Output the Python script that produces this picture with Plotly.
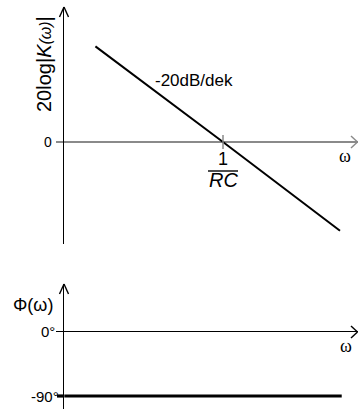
import plotly.graph_objects as go

# Bode diagram: asymptotic magnitude and phase of a first-order RC circuit
omega_gain = [0.09, 1.0, 9.1]        # ω·RC
gain_db = [20.8, 0.0, -19.3]         # 20log|K(ω)| asymptote, -20 dB/decade
omega_phase = [0.05, 9.4]
phase_deg = [-90, -90]               # Φ(ω)
corner_omega = [1.0]                 # 1/RC
corner_gain = [0.0]

W, H = 358, 409
SANS = "Liberation Sans, Arial, sans-serif"
SERIF = "Liberation Serif, Times New Roman, serif"
GRAY = "#8a8a8a"


def px(x):
    return x / W


def py(y):
    return 1 - y / H


fig = go.Figure()

fig.add_trace(go.Scatter(
    x=omega_gain, y=gain_db, mode="lines",
    line=dict(color="black", width=2), xaxis="x", yaxis="y",
    hoverinfo="skip", showlegend=False))

fig.add_trace(go.Scatter(
    x=corner_omega, y=corner_gain, mode="markers",
    marker=dict(symbol="line-ns-open", size=10, color=GRAY,
                line=dict(color=GRAY, width=1.5)),
    xaxis="x", yaxis="y", hoverinfo="skip", showlegend=False))

# the phase panel shares the same frequency axis
fig.add_trace(go.Scatter(
    x=omega_phase, y=phase_deg, mode="lines",
    line=dict(color="black", width=3.2), xaxis="x", yaxis="y2",
    hoverinfo="skip", showlegend=False))

fig.update_layout(
    width=W, height=H, margin=dict(l=0, r=0, t=0, b=0),
    paper_bgcolor="white", plot_bgcolor="white",
    xaxis=dict(type="log", domain=[px(64), 1], range=[-1.3033, 1.1066],
               autorange=False, showgrid=False, zeroline=False, showline=False,
               ticks="", showticklabels=False, fixedrange=True, anchor="y"),
    yaxis=dict(domain=[py(244), py(7)], range=[-22.17, 29.35], autorange=False,
               anchor="x", showgrid=False, showline=True, linecolor="black",
               linewidth=1.4, zeroline=True, zerolinecolor=GRAY, zerolinewidth=1.6,
               ticks="outside", tickvals=[0], ticklen=7, tickcolor=GRAY,
               tickwidth=1.6, showticklabels=False, fixedrange=True),
    yaxis2=dict(domain=[0, py(284)], range=[-108.3, 67.5], autorange=False,
                anchor="x", showgrid=False, showline=True, linecolor="black",
                linewidth=1.4, zeroline=True, zerolinecolor="black",
                zerolinewidth=1.4, ticks="outside", tickvals=[0], ticklen=7,
                tickcolor="black", tickwidth=1.4, showticklabels=False,
                fixedrange=True),
)

shapes = []


def seg(x0, y0, x1, y1, color="black", width=1.4):
    shapes.append(dict(type="line", xref="paper", yref="paper",
                       x0=px(x0), y0=py(y0), x1=px(x1), y1=py(y1),
                       line=dict(color=color, width=width)))


# axis arrowheads
seg(59.5, 17, 64, 7)
seg(68.5, 17, 64, 7)
seg(59.5, 294, 64, 284)
seg(68.5, 294, 64, 284)
seg(351, 136, 357.5, 142, GRAY, 1.4)
seg(351, 148, 357.5, 142, GRAY, 1.4)
seg(351, 326, 357.5, 332)
seg(351, 338, 357.5, 332)
# -90° tick and fraction bar of 1/RC
seg(57, 396, 64, 396, width=3.2)
seg(208, 171, 238, 171, width=1.4)
fig.update_layout(shapes=shapes)

anns = []


def label(text, x, y, size, family=SANS, xanchor="center", angle=0):
    anns.append(dict(text=text, xref="paper", yref="paper", x=px(x), y=py(y),
                     xanchor=xanchor, yanchor="middle", showarrow=False,
                     textangle=angle, font=dict(family=family, size=size, color="black")))


label("20log|<i>K</i><i><span style='font-size:16px'>(ω)</span></i>|", 44, 64, 20, angle=-90)
label("0", 47.5, 142, 14)
label("-20dB/dek", 153, 81, 17, xanchor="left")
label("1", 223, 159, 18)
label("<i>RC</i>", 223, 180, 20)
label("ω", 345, 156, 18, family=SERIF)
label("Φ(ω)", 33, 305, 18)
label("0°", 57, 331, 15, xanchor="right")
label("-90°", 61, 396, 15, xanchor="right")
label("ω", 346, 346, 18, family=SERIF)
fig.update_layout(annotations=anns)

fig.write_html("out.html")
